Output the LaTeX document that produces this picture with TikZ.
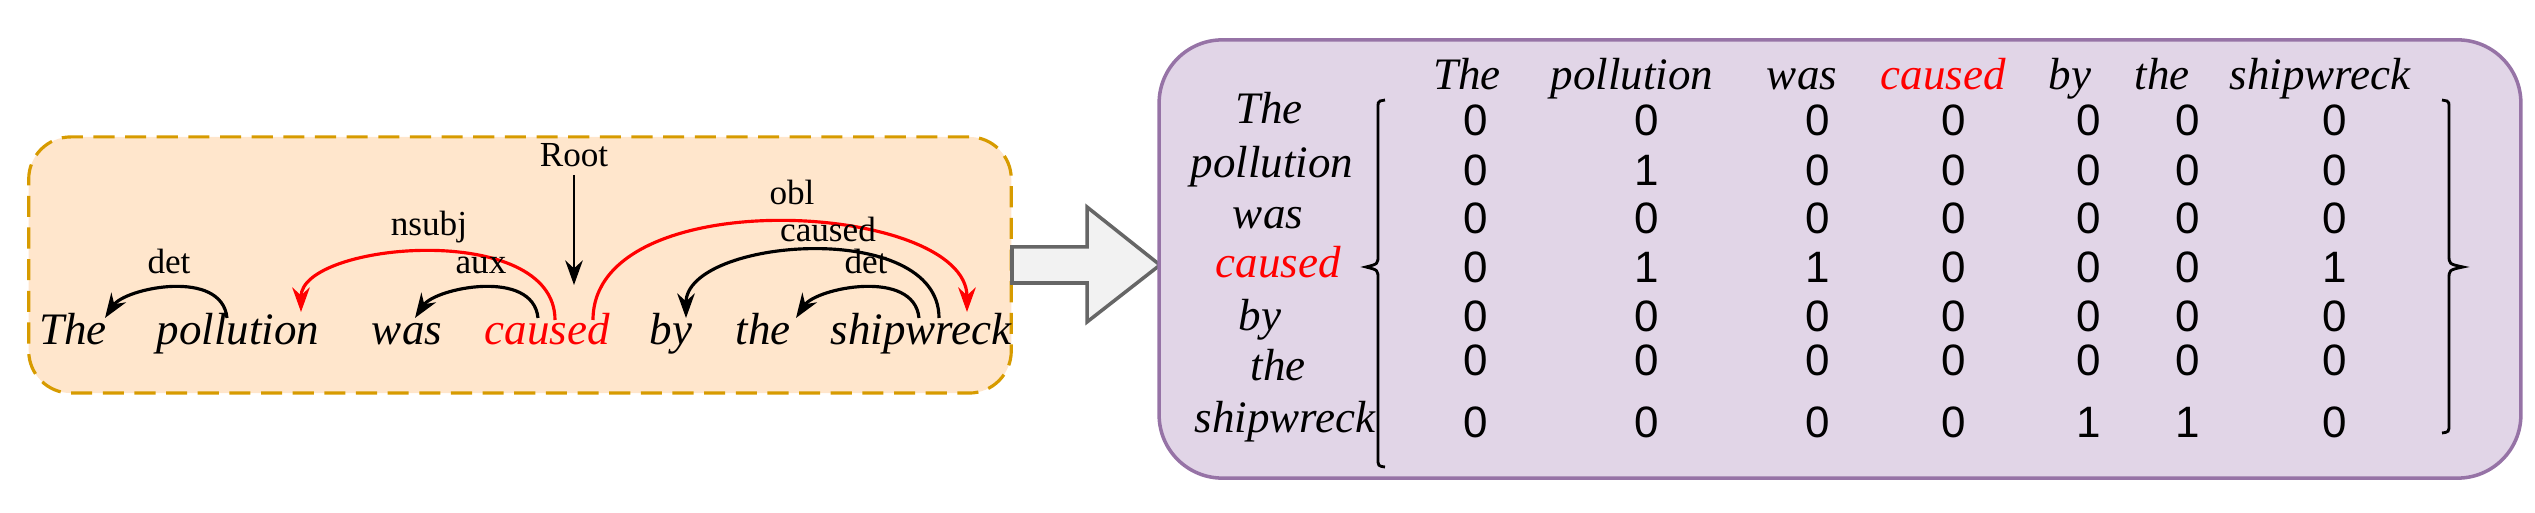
\documentclass[tikz,border=0pt]{standalone}
\usepackage{fontspec}
\setmainfont{Liberation Serif}
\newfontfamily\numf{Liberation Sans}
\usetikzlibrary{arrows.meta}
\begin{document}
\begin{tikzpicture}[x=0.01cm,y=-0.01cm,
  word/.style={font=\fontsize{12.8}{14}\selectfont\itshape,anchor=base,inner sep=0pt},
  lab/.style={font=\fontsize{10}{12}\selectfont,anchor=base,inner sep=0pt},
  num/.style={font=\numf\fontsize{12.5}{14}\selectfont,inner sep=0pt},
  arc/.style={line width=0.9pt,-{Stealth[length=7pt,width=5pt]}},
  redarc/.style={arc,red},
  brace/.style={line width=0.8pt}]
\useasboundingbox (0,0) rectangle (2535,513);
% left panel
\node[draw={rgb,255:red,215;green,155;blue,0},fill={rgb,255:red,255;green,230;blue,204},dash pattern=on 6pt off 3pt,line width=0.9pt,rounded corners=12pt,minimum width=9.82cm,minimum height=2.56cm,inner sep=0pt] (lbox) at (520,265) {};
\node[word] (w1) at (73,345) {The};
\node[word] (w2) at (238,345) {pollution};
\node[word] (w3) at (407,345) {was};
\node[word,text=red] (w4) at (547,345) {caused};
\node[word] (w5) at (671,345) {by};
\node[word] (w6) at (763,345) {the};
\node[word] (w7) at (921,345) {shipwreck};
\coordinate (d1s) at (227,318); \coordinate (d1e) at (105,318);
\coordinate (nss) at (555,320); \coordinate (nse) at (301,312);
\coordinate (axs) at (538,318); \coordinate (axe) at (415,318);
\coordinate (obs) at (593,320); \coordinate (obe) at (967,312);
\coordinate (cas) at (939,318); \coordinate (cae) at (686,318);
\coordinate (d2s) at (919,318); \coordinate (d2e) at (796,318);
\coordinate (rootend) at (574,285);
\draw[arc] (d1s) .. controls +(-5,-50) and +(20,-30) .. (d1e);
\draw[redarc] (nss) .. controls +(0,-100) and +(0,-70) .. (nse);
\draw[arc] (axs) .. controls +(-5,-50) and +(20,-30) .. (axe);
\draw[redarc] (obs) .. controls +(0,-140) and +(0,-110) .. (obe);
\draw[arc] (cas) .. controls +(0,-100) and +(0,-80) .. (cae);
\draw[arc] (d2s) .. controls +(-5,-50) and +(20,-30) .. (d2e);
\node[lab] (l1) at (169,274) {det};
\node[lab] (l2) at (429,236) {nsubj};
\node[lab] (l3) at (481,274) {aux};
\node[lab] (l4) at (792,205) {obl};
\node[lab] (l5) at (828,242) {caused};
\node[lab] (l6) at (866,274) {det};
\node[lab] (root) at (574,167) {Root};
\coordinate (rootstart) at (574,175);
\draw[arc,line width=0.7pt] (rootstart) -- (rootend);
% big arrow
\draw[draw={rgb,255:red,102;green,102;blue,102},fill={rgb,255:red,242;green,242;blue,242},line width=1pt]
  (1012,247) -- (1087,247) -- (1087,207) -- (1160,265) -- (1087,322) -- (1087,283) -- (1012,283) -- cycle;
% right panel
\node[draw={rgb,255:red,150;green,115;blue,166},fill={rgb,255:red,225;green,213;blue,231},line width=1pt,rounded corners=18pt,minimum width=13.61cm,minimum height=4.38cm,inner sep=0pt] (rbox) at (1840,259) {};
\foreach \n/\x/\t in {1/1467/The,2/1632/pollution,3/1802/was,5/2070/by,6/2162/the,7/2320/shipwreck}
  \node[word] (h\n) at (\x,90) {\t};
\node[word,text=red] (h4) at (1943,90) {caused};
\foreach \n/\x/\y/\t in {1/1269/124/The,2/1272/178/pollution,3/1268/229/was,5/1260/331/by,6/1278/381/the,7/1285/433/shipwreck}
  \node[word] (r\n) at (\x,\y) {\t};
\node[word,text=red] (r4) at (1278,278) {caused};
\foreach \row/\y/\vals in {1/120/{0,0,0,0,0,0,0},2/170/{0,1,0,0,0,0,0},3/218/{0,0,0,0,0,0,0},4/267/{0,1,1,0,0,0,1},5/316/{0,0,0,0,0,0,0},6/360/{0,0,0,0,0,0,0},7/422/{0,0,0,0,1,1,0}}{
  \foreach \v [count=\c] in \vals {
    \pgfmathsetmacro{\xx}{{1476,1647,1818,1954,2089,2188,2335}[\c-1]}
    \node[num] (m\row\c) at (\xx,\y) {\v};
  }
}
% braces
\draw[brace] (1385,100) -- (1380,101) .. controls (1378,102) .. (1378,110) -- (1378,255) .. controls (1378,264) .. (1366,267)
  .. controls (1378,270) .. (1378,279) -- (1378,458) .. controls (1378,466) .. (1385,467);
\draw[brace] (2442,100) -- (2447,101) .. controls (2449,102) .. (2449,110) -- (2449,255) .. controls (2449,264) .. (2463,267)
  .. controls (2449,270) .. (2449,279) -- (2449,424) .. controls (2449,432) .. (2442,433);
\end{tikzpicture}
\end{document}
